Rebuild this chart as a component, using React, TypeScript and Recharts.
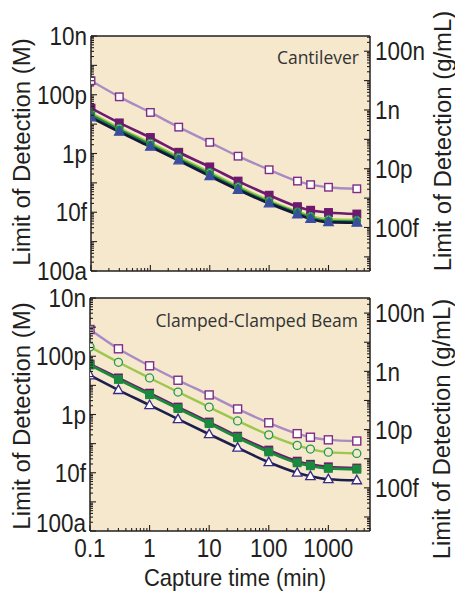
import React from "react";
import { LineChart, Line, XAxis, YAxis, CartesianGrid } from "recharts";

// capture time (min)
const captureTime = [0.1, 0.3, 1, 3, 10, 30, 100, 300, 500, 1000, 3000];

// Cantilever panel, limit of detection (M)
const cantOpenSquare = [3.0e-10, 8.5e-11, 2.5e-11, 7.9e-12, 2.4e-12, 8.1e-13, 2.8e-13, 1.15e-13, 8.7e-14, 7.1e-14, 6.3e-14];
const cantFilledSquare = [3.5e-11, 1.1e-11, 3.5e-12, 1.1e-12, 3.5e-13, 1.15e-13, 3.8e-14, 1.55e-14, 1.17e-14, 9.8e-15, 8.7e-15];
const cantOpenCircle = [2.4e-11, 7.4e-12, 2.3e-12, 7.6e-13, 2.3e-13, 7.6e-14, 2.5e-14, 1.05e-14, 7.4e-15, 5.8e-15, 5.5e-15];
const cantFilledCircle = [2.1e-11, 6.5e-12, 2.0e-12, 6.6e-13, 2.0e-13, 6.6e-14, 2.2e-14, 9.5e-15, 6.6e-15, 5.1e-15, 4.9e-15];
const cantTriangle = [1.7e-11, 5.5e-12, 1.7e-12, 5.8e-13, 1.7e-13, 5.8e-14, 2.0e-14, 8.5e-15, 5.9e-15, 4.6e-15, 4.4e-15];

// Clamped-clamped beam panel, limit of detection (M)
const beamOpenSquare = [8.3e-10, 1.8e-10, 4.7e-11, 1.5e-11, 4.7e-12, 1.55e-12, 5.2e-13, 2.2e-13, 1.66e-13, 1.35e-13, 1.23e-13];
const beamOpenCircle = [2.1e-10, 6.2e-11, 1.8e-11, 5.9e-12, 1.8e-12, 6.0e-13, 2.0e-13, 8.7e-14, 6.5e-14, 5.1e-14, 4.6e-14];
const beamFilledSquare = [5.4e-11, 1.8e-11, 5.4e-12, 1.8e-12, 5.5e-13, 1.8e-13, 6.0e-14, 2.5e-14, 1.95e-14, 1.6e-14, 1.45e-14];
const beamFilledCircle = [5.0e-11, 1.6e-11, 4.8e-12, 1.6e-12, 4.9e-13, 1.6e-13, 5.2e-14, 2.2e-14, 1.74e-14, 1.41e-14, 1.32e-14];
const beamTriangle = [2.2e-11, 6.9e-12, 2.1e-12, 6.9e-13, 2.1e-13, 7.2e-14, 2.3e-14, 1.0e-14, 7.6e-15, 6.0e-15, 5.5e-15];

// tick labels
const xMajor = [0.1, 1, 10, 100, 1000];
const xLabels = ["0.1", "1", "10", "100", "1000"];
const molarMajor = [1e-8, 1e-10, 1e-12, 1e-14, 1e-16];
const molarLabels = ["10n", "100p", "1p", "10f", "100a"];
const massMajor = [1e-7, 1e-9, 1e-11, 1e-13];
const massLabels = ["100n", "1n", "10p", "100f"];

// g/mL per M for the right axis
const massFactor = 33;

const INK = "#231f20";
const FONT = "'Liberation Sans', Arial, sans-serif";
const BG = "#f5e8cd";
const STRETCH = 1.18;

const xDomain = [0.1, 5000];
const molarDomain = [1e-16, 1e-8];
const massDomain = [1e-16 * massFactor, 1e-8 * massFactor];

const near = (a: number, b: number) => Math.abs(a / b - 1) < 1e-6;
const isDecade = (v: number) => near(v, Math.pow(10, Math.round(Math.log10(v))));

function logTicks(lo: number, hi: number) {
  const out: number[] = [];
  for (let e = -17; e <= 4; e++) {
    for (let k = 1; k <= 9; k++) {
      const v = k * Math.pow(10, e);
      if (v >= lo * (1 - 1e-9) && v <= hi * (1 + 1e-9)) out.push(v);
    }
  }
  return out;
}

const xTicks = logTicks(xDomain[0], xDomain[1]);
const molarTicks = logTicks(molarDomain[0], molarDomain[1]);
const massTicks = logTicks(massDomain[0], massDomain[1]);

type Side = "bottom" | "top" | "left" | "right";

function Label({ x, y, anchor, text }: { x: number; y: number; anchor: "start" | "middle" | "end"; text: string }) {
  return (
    <text transform={`translate(${x},${y}) scale(1,${STRETCH})`} x={0} y={0} textAnchor={anchor}
      dominantBaseline="central" fill={INK} fontFamily={FONT} fontSize={22.5}>
      {text}
    </text>
  );
}

function makeTick(side: Side, majors: number[] | null, labels: string[] | null, lowShift = 0) {
  return (p: any) => {
    const { x, y, payload } = p;
    const v = payload.value;
    const len = isDecade(v) ? 6 : 3;
    const idx = majors && labels ? majors.findIndex((m) => near(v, m)) : -1;
    let line;
    let label = null;
    if (side === "bottom") {
      line = <line x1={x} y1={y} x2={x} y2={y - len} />;
      if (idx >= 0) label = <Label x={x} y={y + 17} anchor="middle" text={labels![idx]} />;
    } else if (side === "top") {
      line = <line x1={x} y1={y} x2={x} y2={y + len} />;
    } else if (side === "left") {
      line = <line x1={x} y1={y} x2={x + len} y2={y} />;
      if (idx >= 0) {
        const dy = idx === majors!.length - 1 ? -lowShift : 0;
        label = <Label x={x - 4} y={y + dy} anchor="end" text={labels![idx]} />;
      }
    } else {
      line = <line x1={x} y1={y} x2={x - len} y2={y} />;
      if (idx >= 0) label = <Label x={x + 5} y={y} anchor="start" text={labels![idx]} />;
    }
    return (
      <g>
        <g stroke={INK} strokeWidth={1.1}>{line}</g>
        {label}
      </g>
    );
  };
}

function makeDot(shape: string, stroke: string, fill: string, size: number) {
  return (p: any) => {
    const { cx, cy, index } = p;
    const key = `dot-${index}`;
    if (cx == null || cy == null || isNaN(cx) || isNaN(cy)) return <g key={key} />;
    if (shape === "square")
      return (
        <rect key={key} x={cx - size / 2} y={cy - size / 2} width={size} height={size}
          fill={fill} stroke={stroke} strokeWidth={1.4} />
      );
    if (shape === "circle")
      return <circle key={key} cx={cx} cy={cy} r={size / 2} fill={fill} stroke={stroke} strokeWidth={1.3} />;
    const h = size * 0.9;
    return (
      <path key={key}
        d={`M${cx},${cy - h * 0.6} L${cx + size / 2},${cy + h * 0.4} L${cx - size / 2},${cy + h * 0.4} Z`}
        fill={fill} stroke={stroke} strokeWidth={1.3} />
    );
  };
}

type Series = {
  name: string;
  values: number[];
  color: string;
  width: number;
  dot: (p: any) => React.ReactElement;
};

const cantSeries: Series[] = [
  { name: "openSquare", values: cantOpenSquare, color: "#a98bc4", width: 2.4, dot: makeDot("square", "#7e2c87", "#ffffff", 7.5) },
  { name: "filledSquare", values: cantFilledSquare, color: "#6e1a6e", width: 2.6, dot: makeDot("square", "#6e1a6e", "#6e1a6e", 7.5) },
  { name: "openCircle", values: cantOpenCircle, color: "#9cc64c", width: 2.4, dot: makeDot("circle", "#1f9a4e", BG, 7) },
  { name: "filledCircle", values: cantFilledCircle, color: "#1b8a3c", width: 2.4, dot: makeDot("circle", "#1b8a3c", "#1b8a3c", 7) },
  { name: "triangle", values: cantTriangle, color: "#14163a", width: 2.8, dot: makeDot("triangle", "#3a4ea0", "#3a4ea0", 9.5) },
];

const beamSeries: Series[] = [
  { name: "openSquare", values: beamOpenSquare, color: "#a98bc4", width: 2.4, dot: makeDot("square", "#7e2c87", "#ffffff", 8) },
  { name: "openCircle", values: beamOpenCircle, color: "#9cc64c", width: 2.4, dot: makeDot("circle", "#1f9a4e", BG, 8) },
  { name: "filledSquare", values: beamFilledSquare, color: "#6e1a6e", width: 2.6, dot: makeDot("square", "#6e1a6e", "#6e1a6e", 7.5) },
  { name: "filledCircle", values: beamFilledCircle, color: "#1b8a3c", width: 2.8, dot: makeDot("square", "#1b8a3c", "#1b8a3c", 7.5) },
  { name: "triangle", values: beamTriangle, color: "#1c1f4e", width: 2.6, dot: makeDot("triangle", "#3a2a86", "#ffffff", 9.5) },
];

function buildRows(series: Series[]) {
  return captureTime.map((t, i) => {
    const row: Record<string, number> = { t };
    series.forEach((s) => (row[s.name] = s.values[i]));
    return row;
  });
}

function Panel({ top, height, topH, bottomH, leftW, series, showX, lowShift }: {
  top: number; height: number; topH: number; bottomH: number; leftW: number; series: Series[]; showX: boolean; lowShift: number;
}) {
  const data = buildRows(series);
  return (
    <div style={{ position: "absolute", left: 0, top }}>
      <LineChart width={455} height={height} data={data} margin={{ top: 0, right: 0, bottom: 0, left: 0 }}>
        <CartesianGrid xAxisId="b" yAxisId="l" horizontal={false} vertical={false} fill={BG} fillOpacity={1} />
        <XAxis xAxisId="b" dataKey="t" type="number" scale="log" domain={xDomain} allowDataOverflow
          ticks={xTicks} interval={0} height={bottomH} tickSize={0} tickMargin={0} tickLine={false}
          axisLine={{ stroke: INK, strokeWidth: 1.5 }}
          tick={makeTick("bottom", showX ? xMajor : null, showX ? xLabels : null)} />
        <XAxis xAxisId="t" orientation="top" type="number" scale="log" domain={xDomain} allowDataOverflow
          ticks={xTicks} interval={0} height={topH} tickSize={0} tickMargin={0} tickLine={false}
          axisLine={{ stroke: INK, strokeWidth: 1.5 }} tick={makeTick("top", null, null)} />
        <YAxis yAxisId="l" orientation="left" type="number" scale="log" domain={molarDomain} allowDataOverflow
          ticks={molarTicks} interval={0} width={leftW} tickSize={0} tickMargin={0} tickLine={false}
          axisLine={{ stroke: INK, strokeWidth: 1.5 }} tick={makeTick("left", molarMajor, molarLabels, lowShift)} />
        <YAxis yAxisId="r" orientation="right" type="number" scale="log" domain={massDomain} allowDataOverflow
          ticks={massTicks} interval={0} width={455 - 370} tickSize={0} tickMargin={0} tickLine={false}
          axisLine={{ stroke: INK, strokeWidth: 1.5 }} tick={makeTick("right", massMajor, massLabels)} />
        {series.map((s) => (
          <Line key={s.name} xAxisId="b" yAxisId="l" type="monotone" dataKey={s.name}
            stroke={s.color} strokeWidth={s.width} dot={s.dot} activeDot={false}
            isAnimationActive={false} />
        ))}
      </LineChart>
    </div>
  );
}

const titleStyle: React.CSSProperties = {
  position: "absolute",
  whiteSpace: "nowrap",
  fontFamily: FONT,
  color: INK,
};

function VTitle({ x, y, text }: { x: number; y: number; text: string }) {
  return (
    <div style={{ ...titleStyle, left: x, top: y, fontSize: 23, transform: "translate(-50%, -50%) rotate(-90deg) scale(1.04, 1)" }}>
      {text}
    </div>
  );
}

export default function App() {
  return (
    <div style={{ position: "absolute", left: 0, top: 0, width: 455, height: 593, background: "#ffffff" }}>
      <Panel top={0} height={290} topH={36} bottomH={19} leftW={91} series={cantSeries} showX={false} lowShift={0} />
      <Panel top={280} height={313} topH={18} bottomH={62} leftW={90} series={beamSeries} showX={true} lowShift={8} />
      <div style={{ ...titleStyle, right: 455 - 359, top: 45, fontSize: 17.5, fontFamily: "'Open Sans', sans-serif", color: "#333" }}>
        Cantilever
      </div>
      <div style={{ ...titleStyle, right: 455 - 358, top: 308, fontSize: 17.5, fontFamily: "'Open Sans', sans-serif", color: "#333" }}>
        Clamped-Clamped Beam
      </div>
      <VTitle x={22} y={152} text="Limit of Detection (M)" />
      <VTitle x={22} y={416} text="Limit of Detection (M)" />
      <VTitle x={443} y={141} text="Limit of Detection (g/mL)" />
      <VTitle x={442} y={429} text="Limit of Detection (g/mL)" />
      <div style={{ ...titleStyle, left: 235, top: 578, fontSize: 22, transform: "translate(-50%, -50%) scale(1, 1.1)" }}>
        Capture time (min)
      </div>
    </div>
  );
}
